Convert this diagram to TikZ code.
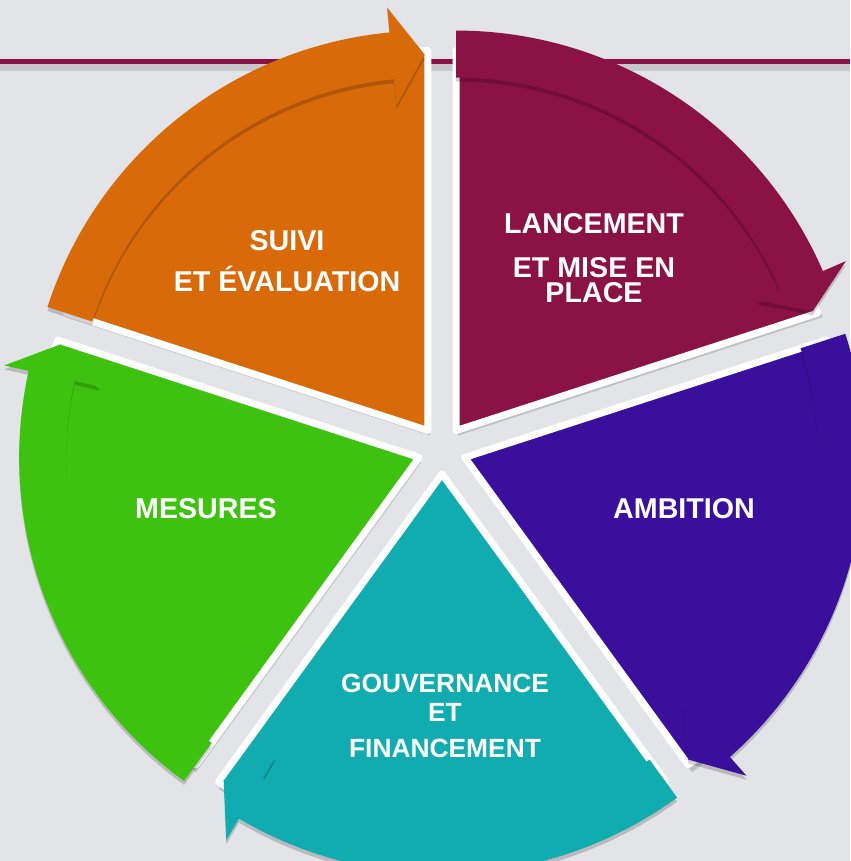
\documentclass[tikz,border=0pt]{standalone}
\usepackage{fontspec}
\setmainfont{Liberation Sans}
\usepackage{tikz}
\usetikzlibrary{calc}
\definecolor{fondgris}{HTML}{E3E4E8}
\definecolor{orangeS}{HTML}{D96A0A}
\definecolor{bordeauxS}{HTML}{8B1245}
\definecolor{violetS}{HTML}{3A0F9C}
\definecolor{turquoiseS}{HTML}{10ACB0}
\definecolor{vertS}{HTML}{3DC30F}
\tikzset{etiq/.style={text=white, font=\fontsize{16.3pt}{12.8pt}\selectfont\bfseries, align=center, inner sep=0pt},
  ombre/.style={fill=black, opacity=0.16}}

\begin{document}
\begin{tikzpicture}[x=0.02cm, y=0.02cm]
\fill[fondgris] (0,0) rectangle (850,861);
\useasboundingbox (0,0) rectangle (850,861);
\coordinate (c) at (442,411);
\coordinate (g) at (0,799);
\coordinate (d) at (850,799);
\draw[black, opacity=0.12, line width=0.16cm] ($(g)+(0,-5)$) -- ($(d)+(0,-5)$);
\draw[bordeauxS, line width=0.1cm] (g) -- (d);
% ombres des secteurs
\foreach \a in {162,90,18,-54,-126}
{
  \fill[ombre] ($(c)+(\a-36:24)+(2,-5)$) -- ++(\a:383) arc[start angle=\a, end angle=\a-72, radius=383] -- cycle;
}
% secteurs et fleches
\foreach \a/\col in {162/orangeS,90/bordeauxS,18/violetS,-54/turquoiseS,-126/vertS}
{
  \coordinate (o) at ($(c)+(\a-36:24)$);
  \filldraw[fill=\col, draw=white, line width=0.14cm, line join=round] (o) -- ++(\a:380) arc[start angle=\a, end angle=\a-72, radius=380] -- cycle;
  \foreach \dy/\op/\cc in {-4/0.18/black, 0/1/\col}
  {
    \coordinate (b) at ($(o)+(0,\dy)$);
    \fill[\cc, opacity=\op] ($(b)+(\a:400)$) arc[start angle=\a, end angle=\a-66.5, radius=400]
      -- ($(b)+(\a-66.5:425)$) -- ($(b)+(\a-71.5:376)$) -- ($(b)+(\a-66.5:327)$)
      -- ($(b)+(\a-66.5:353)$) arc[start angle=\a-66.5, end angle=\a, radius=353] -- cycle;
  }
}
\node[etiq] (suivi) at (287,600) {SUIVI\\[7.7pt]ET ÉVALUATION};
\node[etiq] (lancement) at (594,603) {LANCEMENT\\[12pt]ET MISE EN\\[1.5pt]PLACE};
\node[etiq] (ambition) at (684,352) {AMBITION};
\node[etiq, font=\fontsize{15pt}{12.8pt}\selectfont\bfseries] (gouvernance) at (445,145) {GOUVERNANCE\\[3.6pt]ET\\[7.6pt]FINANCEMENT};
\node[etiq] (mesures) at (206,352) {MESURES};
\end{tikzpicture}
\end{document}
